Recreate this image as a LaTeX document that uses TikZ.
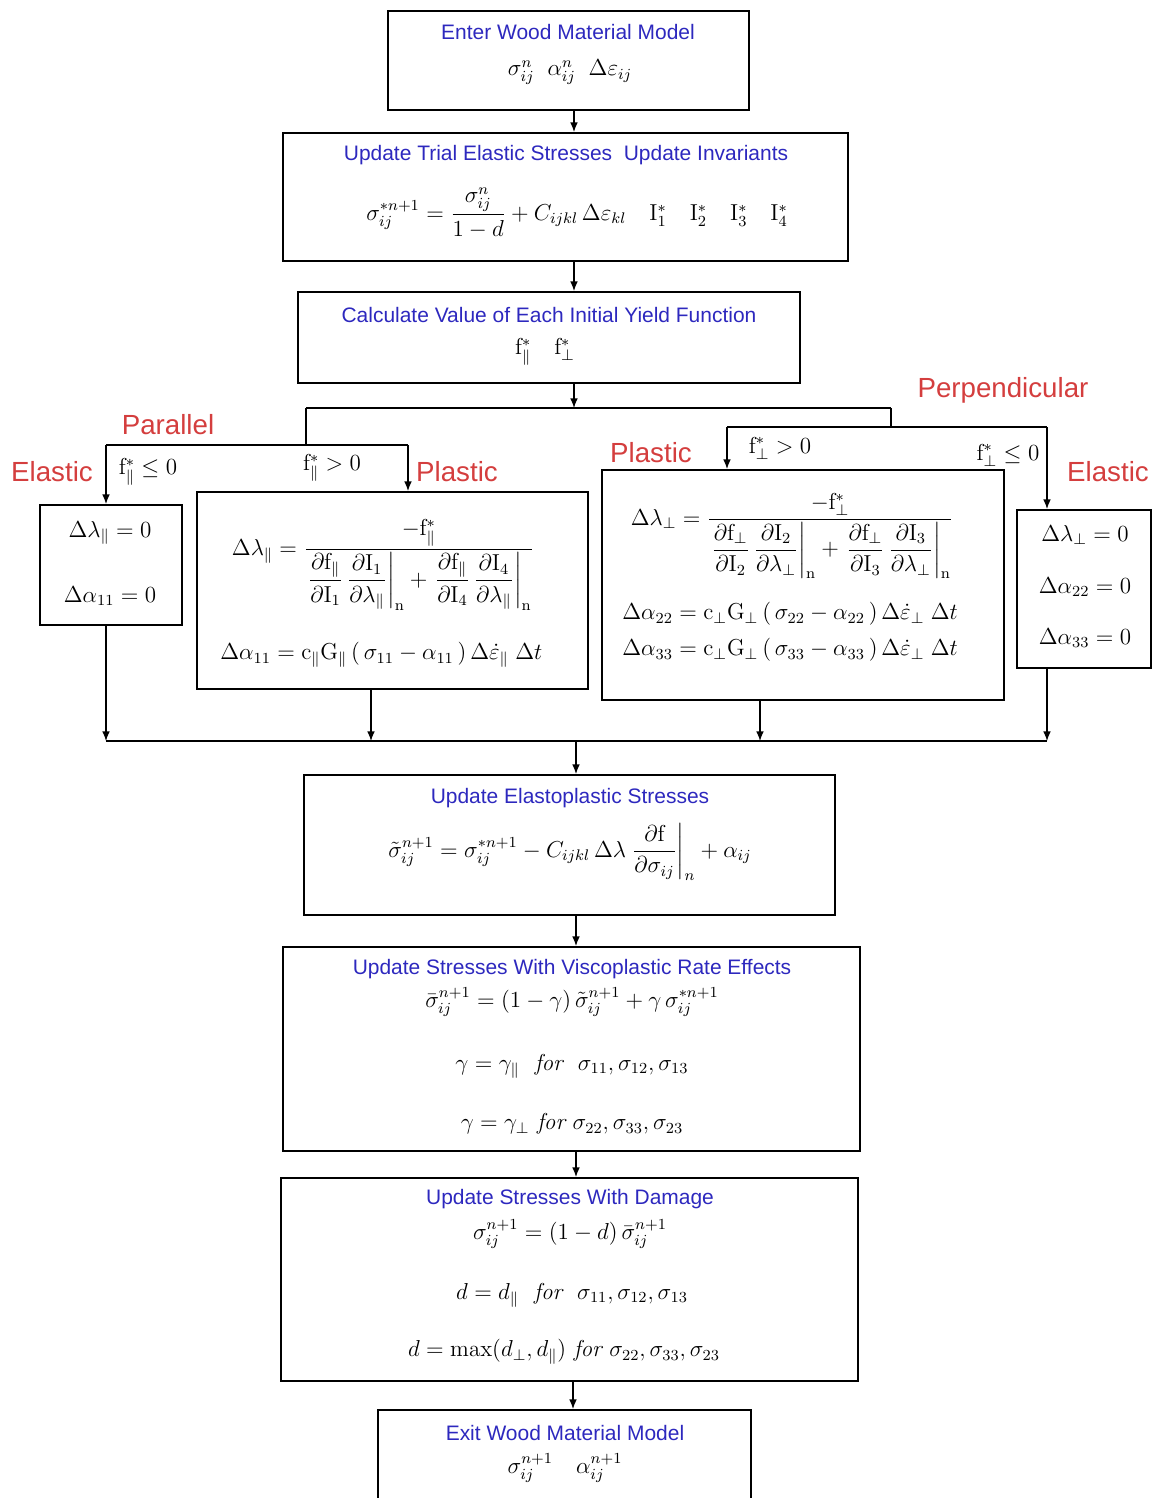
\documentclass[tikz,border=0pt]{standalone}
\usepackage{amsmath}
\usepackage{fontspec}
\setsansfont{Liberation Sans}
\usetikzlibrary{arrows.meta,fit}
\definecolor{titleblue}{RGB}{45,40,190}
\definecolor{labelred}{RGB}{212,62,62}
\begin{document}
\begin{tikzpicture}[x=0.52pt,y=-0.52pt,
        box/.style={draw,line width=1pt,inner sep=0pt},
        title/.style={font=\sffamily\fontsize{10.9}{12}\selectfont,text=titleblue,inner sep=0pt},
        eq/.style={font=\fontsize{12}{14}\selectfont,inner sep=0pt},
        cond/.style={font=\fontsize{12}{14}\selectfont,inner sep=0pt},
        branch/.style={font=\sffamily\fontsize{14.4}{16}\selectfont,text=labelred,inner sep=0pt},
        arr/.style={-{Latex[length=5pt,width=4pt]},line width=0.7pt},
        bus/.style={line width=0.7pt}]
        \useasboundingbox (0,0) rectangle (1160,1498);
        \clip (0,0) rectangle (1160,1498);
        \def\dI#1#2#3{\dfrac{\partial\mathrm{f}_{#1}}{\partial\mathrm{I}_{#2}}\,\dfrac{\partial\mathrm{I}_{#2}}{\partial\lambda_{#3}}}
        % boxes
        \node[box,fit={(388,11) (749,110)}] (enter) {};
        \node[box,fit={(283,133) (848,261)}] (trial) {};
        \node[box,fit={(298,292) (800,383)}] (yield) {};
        \node[box,fit={(40,505) (182,625)}] (elpar) {};
        \node[box,fit={(197,492) (588,689)}] (plpar) {};
        \node[box,fit={(602,470) (1004,700)}] (plperp) {};
        \node[box,fit={(1017,510) (1151,668)}] (elperp) {};
        \node[box,fit={(304,775) (835,915)}] (elastoplastic) {};
        \node[box,fit={(283,947) (860,1151)}] (visco) {};
        \node[box,fit={(281,1178) (858,1381)}] (damage) {};
        \node[box,fit={(378,1410) (751,1530)}] (exit) {};
        % texts in the boxes
        \node[title] (enter-t) at (568,32) {Enter Wood Material Model};
        \node[eq] (enter-m) at (570,72) {$\sigma_{ij}^{n}\;\;\alpha_{ij}^{n}\;\;\Delta\varepsilon_{ij}$};
        \node[title] (trial-t) at (566,155) {Update Trial Elastic Stresses\ \ Update Invariants};
        \node[eq] (trial-m) at (577,213) {$\sigma_{ij}^{*n+1}=\dfrac{\sigma_{ij}^{n}}{1-d}+C_{ijkl}\,\Delta\varepsilon_{kl}\quad \mathrm{I}_1^*\quad\mathrm{I}_2^*\quad\mathrm{I}_3^*\quad\mathrm{I}_4^*$};
        \node[title] (yield-t) at (549,315) {Calculate Value of Each Initial Yield Function};
        \node[eq] (yield-m) at (545,352) {$\mathrm{f}_{\parallel}^{*}\quad\mathrm{f}_{\perp}^{*}$};
        \node[eq] (elpar-a) at (110,533) {$\Delta\lambda_{\parallel}=0$};
        \node[eq] (elpar-b) at (110,596) {$\Delta\alpha_{11}=0$};
        \node[eq] (plpar-a) at (383,565) {$\Delta\lambda_{\parallel}=\dfrac{-\mathrm{f}_{\parallel}^{*}}{\left.\dI{\parallel}{1}{\parallel}\right|_{\mathrm{n}}+\left.\dI{\parallel}{4}{\parallel}\right|_{\mathrm{n}}}$};
        \node[eq,anchor=west] (plpar-b) at (220,655) {$\Delta\alpha_{11}=\mathrm{c}_{\parallel}\mathrm{G}_{\parallel}\,(\,\sigma_{11}-\alpha_{11}\,)\,\Delta\dot{\varepsilon}_{\parallel}\;\Delta t$};
        \node[eq] (plperp-a) at (792,536) {$\Delta\lambda_{\perp}=\dfrac{-\mathrm{f}_{\perp}^{*}}{\left.\dI{\perp}{2}{\perp}\right|_{\mathrm{n}}+\left.\dI{\perp}{3}{\perp}\right|_{\mathrm{n}}}$};
        \node[eq,anchor=west] (plperp-b) at (622,614) {$\Delta\alpha_{22}=\mathrm{c}_{\perp}\mathrm{G}_{\perp}\,(\,\sigma_{22}-\alpha_{22}\,)\,\Delta\dot{\varepsilon}_{\perp}\;\Delta t$};
        \node[eq,anchor=west] (plperp-c) at (622,650) {$\Delta\alpha_{33}=\mathrm{c}_{\perp}\mathrm{G}_{\perp}\,(\,\sigma_{33}-\alpha_{33}\,)\,\Delta\dot{\varepsilon}_{\perp}\;\Delta t$};
        \node[eq] (elperp-a) at (1085,535) {$\Delta\lambda_{\perp}=0$};
        \node[eq] (elperp-b) at (1085,587) {$\Delta\alpha_{22}=0$};
        \node[eq] (elperp-c) at (1085,638) {$\Delta\alpha_{33}=0$};
        \node[title] (elastoplastic-t) at (570,798) {Update Elastoplastic Stresses};
        \node[eq] (elastoplastic-m) at (570,852) {$\tilde{\sigma}_{ij}^{n+1}=\sigma_{ij}^{*n+1}-C_{ijkl}\,\Delta\lambda\left.\dfrac{\partial\mathrm{f}}{\partial\sigma_{ij}}\right|_{n}+\alpha_{ij}$};
        \node[title] (visco-t) at (572,969) {Update Stresses With Viscoplastic Rate Effects};
        \node[eq] (visco-a) at (572,1002) {$\bar{\sigma}_{ij}^{n+1}=(1-\gamma)\,\tilde{\sigma}_{ij}^{n+1}+\gamma\,\sigma_{ij}^{*n+1}$};
        \node[eq] (visco-b) at (572,1066) {$\gamma=\gamma_{\parallel}\ \ \mathit{for}\ \ \sigma_{11},\sigma_{12},\sigma_{13}$};
        \node[eq] (visco-c) at (572,1124) {$\gamma=\gamma_{\perp}\ \mathit{for}\ \sigma_{22},\sigma_{33},\sigma_{23}$};
        \node[title] (damage-t) at (570,1199) {Update Stresses With Damage};
        \node[eq] (damage-a) at (570,1234) {$\sigma_{ij}^{n+1}=(1-d)\,\bar{\sigma}_{ij}^{n+1}$};
        \node[eq] (damage-b) at (572,1295) {$d=d_{\parallel}\ \ \mathit{for}\ \ \sigma_{11},\sigma_{12},\sigma_{13}$};
        \node[eq] (damage-c) at (564,1352) {$d=\max(d_{\perp},d_{\parallel})\ \mathit{for}\ \sigma_{22},\sigma_{33},\sigma_{23}$};
        \node[title] (exit-t) at (565,1433) {Exit Wood Material Model};
        \node[eq] (exit-m) at (565,1468) {$\sigma_{ij}^{n+1}\quad\alpha_{ij}^{n+1}$};
        % branch labels
        \node[branch] (parallel) at (168,425) {Parallel};
        \node[branch] (elpar-l) at (52,472) {Elastic};
        \node[cond] (elpar-c) at (148,472) {$\mathrm{f}_{\parallel}^{*}\leq 0$};
        \node[cond] (plpar-c) at (332,468) {$\mathrm{f}_{\parallel}^{*}>0$};
        \node[branch] (plpar-l) at (457,472) {Plastic};
        \node[branch] (perpendicular) at (1003,390) {Perpendicular};
        \node[branch] (plperp-l) at (651,453) {Plastic};
        \node[cond] (plperp-c) at (780,448) {$\mathrm{f}_{\perp}^{*}>0$};
        \node[cond] (elperp-c) at (1008,455) {$\mathrm{f}_{\perp}^{*}\leq 0$};
        \node[branch] (elperp-l) at (1108,472) {Elastic};
        % connectors
        \coordinate (fork) at (574,408);
        \coordinate (forkL) at (306,408);
        \coordinate (forkR) at (891,408);
        \coordinate (parL) at (106,445);
        \coordinate (parR) at (408,445);
        \coordinate (perpL) at (727,427);
        \coordinate (perpR) at (1047,427);
        \coordinate (j1) at (106,741);
        \coordinate (j2) at (371,741);
        \coordinate (j3) at (760,741);
        \coordinate (j4) at (1047,741);
        \coordinate (join) at (576,741);
        \coordinate (last) at (573,741);
        \draw[arr] (enter.south -| fork) -- (trial.north -| fork);
        \draw[arr] (trial.south -| fork) -- (yield.north -| fork);
        \draw[arr] (yield.south -| fork) -- (fork);
        \draw[bus] (forkL) -- (forkR);
        \draw[bus] (forkL) -- (forkL |- parL);
        \draw[bus] (parL) -- (parR);
        \draw[arr] (parL) -- (elpar.north -| parL);
        \draw[arr] (parR) -- (plpar.north -| parR);
        \draw[bus] (forkR) -- (forkR |- perpL);
        \draw[bus] (perpL) -- (perpR);
        \draw[arr] (perpL) -- (plperp.north -| perpL);
        \draw[arr] (perpR) -- (elperp.north -| perpR);
        \foreach \b/\j in {elpar/j1,plpar/j2,plperp/j3,elperp/j4}
            \draw[arr] (\b.south -| \j) -- (\j);
        \draw[bus] (j1) -- (j4);
        \draw[arr] (join) -- (elastoplastic.north -| join);
        \draw[arr] (elastoplastic.south -| join) -- (visco.north -| join);
        \draw[arr] (visco.south -| join) -- (damage.north -| join);
        \draw[arr] (damage.south -| last) -- (exit.north -| last);
\end{tikzpicture}
\end{document}
